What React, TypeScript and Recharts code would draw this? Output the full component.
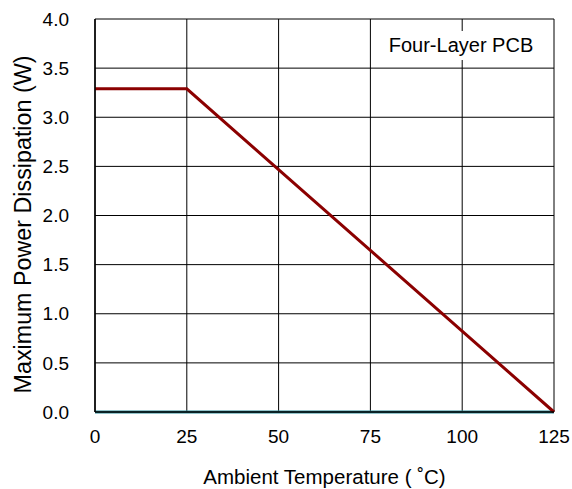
import { LineChart, Line, XAxis, YAxis, CartesianGrid, Label } from 'recharts'

const temps = [0, 25, 125]
const power = [3.29, 3.29, 0]
const baseline = [0, 0, 0]
const xTicks = [0, 25, 50, 75, 100, 125]
const yTicks = [0, 0.5, 1, 1.5, 2, 2.5, 3, 3.5, 4]

const data = temps.map((t, i) => ({ t, p: power[i], b: baseline[i] }))

const font = 'Liberation Sans, Arial, sans-serif'

const yTitle = ({ viewBox }: any) => {
  const cx = 23
  const cy = viewBox.y + viewBox.height / 2 + 9
  return (
    <text
      x={cx}
      y={cy}
      transform={`rotate(-90 ${cx} ${cy})`}
      textAnchor="middle"
      dominantBaseline="central"
      fill="#000"
      fontSize={23.3}
      fontFamily={font}
    >
      Maximum Power Dissipation (W)
    </text>
  )
}

const App = () => {
  return (
    <div style={{ position: 'absolute', left: 0, top: 0, width: 572, height: 489, background: '#fff', fontFamily: font }}>
      <LineChart width={572} height={489} data={data} margin={{ top: 19, right: 18, left: 0, bottom: 0 }}>
        <CartesianGrid stroke="#000" strokeWidth={1} />
        <XAxis
          dataKey="t"
          type="number"
          domain={[0, 125]}
          ticks={xTicks}
          height={77}
          tickLine={false}
          axisLine={{ stroke: '#000', strokeWidth: 1.5 }}
          tick={{ fill: '#000', fontSize: 19, fontFamily: font }}
          tickMargin={12}
        >
          <Label value="Ambient Temperature ( ˚C)" position="insideBottom" offset={5} style={{ fill: '#000', fontSize: 20.5, fontFamily: font }} />
        </XAxis>
        <YAxis
          type="number"
          domain={[0, 4]}
          ticks={yTicks}
          width={95}
          tickLine={false}
          axisLine={{ stroke: '#000', strokeWidth: 1.5 }}
          tickFormatter={(v: number) => v.toFixed(1)}
          tick={{ fill: '#000', fontSize: 19, fontFamily: font }}
          tickMargin={20}
          interval={0}
        >
          <Label content={yTitle} />
        </YAxis>
        <Line dataKey="b" stroke="#2a8a98" strokeWidth={3} dot={false} isAnimationActive={false} />
        <Line dataKey="p" stroke="#8b0000" strokeWidth={3} dot={false} isAnimationActive={false} />
      </LineChart>
      <div
        style={{
          position: 'absolute',
          left: 385,
          top: 31,
          width: 152,
          height: 29,
          background: '#fff',
          display: 'flex',
          alignItems: 'center',
          justifyContent: 'center',
          fontSize: 20,
          color: '#000',
          whiteSpace: 'nowrap',
        }}
      >
        Four-Layer PCB
      </div>
    </div>
  )
}

export default App
